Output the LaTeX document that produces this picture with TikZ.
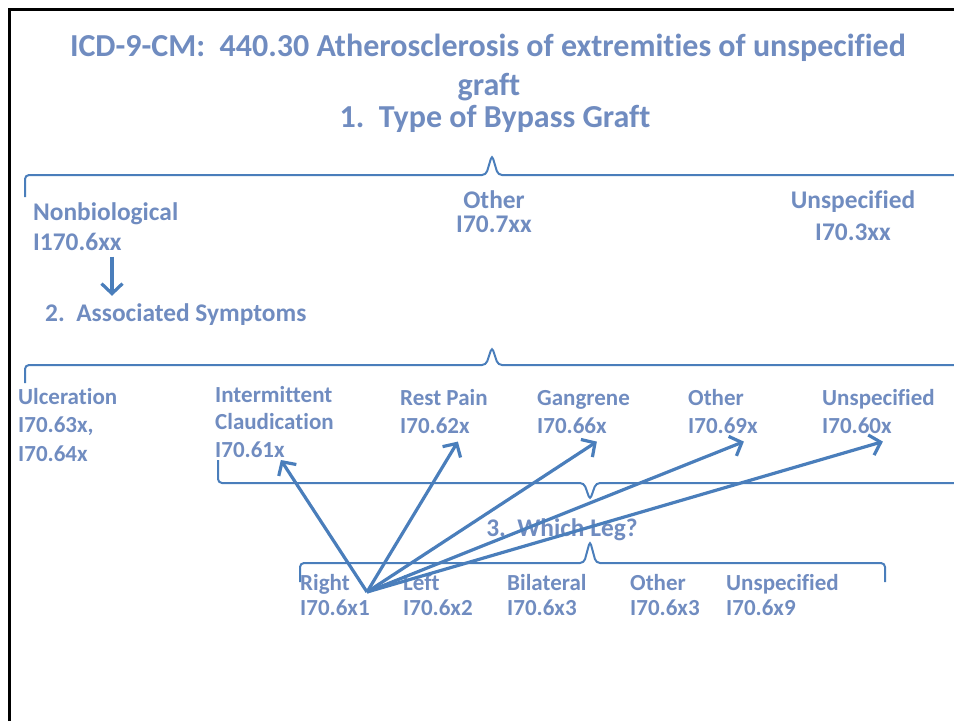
\documentclass[tikz,border=0pt]{standalone}
\usepackage{fontspec}
\setmainfont{Carlito}[Ligatures=NoCommon]
\usetikzlibrary{arrows.meta,positioning}
\definecolor{codeblue}{RGB}{112,140,192}
\definecolor{brblue}{HTML}{4A7EBB}
\tikzset{
    every node/.style={inner sep=0pt,text=codeblue,font=\bfseries},
    title node/.style={font=\fontsize{32}{39}\selectfont\bfseries,anchor=base},
    big node/.style={font=\fontsize{25.4}{30}\selectfont\bfseries,text height=18pt,text depth=6pt},
    small node/.style={font=\fontsize{23}{28}\selectfont\bfseries,text height=16pt,text depth=5pt},
    brace/.style={draw=brblue,line width=2pt,rounded corners=4pt},
    pick/.style={draw=brblue,line width=3.2pt,-{Straight Barb[length=10pt,width=21pt]}}
}

\begin{document}
\begin{tikzpicture}[x=1pt,y=-1pt,node distance=6pt]
    \useasboundingbox (0,0) rectangle (954,721);
    \draw[line width=3pt] (9,721) -- (9,9) -- (954,9);

    % headings
    \node[title node] (title) at (488,56) {ICD-9-CM:\ \ 440.30 Atherosclerosis of extremities of unspecified};
    \node[title node] (graft) at (489,95) {graft};
    \node[title node] (type) at (495,127) {1.\ \ Type of Bypass Graft};

    % type of graft
    \node[big node,anchor=base west] (nonbio) at (33,220) {Nonbiological};
    \node[big node] (nonbioc) [below right=6pt and 0pt of nonbio.south west] {I170.6xx};
    \node[big node,anchor=base] (other) at (494,208) {Other};
    \node[big node] (otherc) [below=0pt of other] {I70.7xx};
    \node[big node,anchor=base] (unsp) at (853,208) {Unspecified};
    \node[big node] (unspc) [below=8pt of unsp] {I70.3xx};
    \node[big node,anchor=base west] (assoc) at (45,321) {2.\ \ Associated Symptoms};

    % symptoms
    \node[small node,anchor=base west] (ulcer) at (18,404) {Ulceration};
    \node[small node] (ulcerc) [below right=7pt and 0pt of ulcer.south west] {I70.63x,};
    \node[small node] (ulcerd) [below right=8pt and 0pt of ulcerc.south west] {I70.64x};
    \node[small node,anchor=base west] (inter) at (215,402) {Intermittent};
    \node[small node] (claud) [below right=6pt and 0pt of inter.south west] {Claudication};
    \node[small node] (claudc) [below right=7pt and 0pt of claud.south west] {I70.61x};
    \node[small node,anchor=base west] (rest) at (400,405) {Rest Pain};
    \node[small node] (restc) [below right=7pt and 0pt of rest.south west] {I70.62x};
    \node[small node,anchor=base west] (gang) at (537,405) {Gangrene};
    \node[small node] (gangc) [below right=7pt and 0pt of gang.south west] {I70.66x};
    \node[small node,anchor=base west] (oth) at (688,405) {Other};
    \node[small node] (othc) [below right=7pt and 0pt of oth.south west] {I70.69x};
    \node[small node,anchor=base west] (uns) at (822,405) {Unspecified};
    \node[small node] (unsc) [below right=7pt and 0pt of uns.south west] {I70.60x};

    % which leg
    \node[big node,anchor=base] (leg) at (562,536) {3.\ \ Which Leg?};
    \node[small node,anchor=base west] (right) at (300,590) {Right};
    \node[small node] (rightc) [below right=4pt and 0pt of right.south west] {I70.6x1};
    \node[small node,anchor=base west] (left) at (403,590) {Left};
    \node[small node] (leftc) [below right=4pt and 0pt of left.south west] {I70.6x2};
    \node[small node,anchor=base west] (bilat) at (507,590) {Bilateral};
    \node[small node] (bilatc) [below right=4pt and 0pt of bilat.south west] {I70.6x3};
    \node[small node,anchor=base west] (legoth) at (630,590) {Other};
    \node[small node] (legothc) [below right=4pt and 0pt of legoth.south west] {I70.6x3};
    \node[small node,anchor=base west] (leguns) at (726,590) {Unspecified};
    \node[small node] (legunsc) [below right=4pt and 0pt of leguns.south west] {I70.6x9};

    % braces
    \draw[brace] (25,197) -- (25,175) -- (486,175) -- (492,155) -- (498,175) -- (960,175);
    \draw[brace] (25,383) -- (25,365) -- (486,365) -- (492,347) -- (498,365) -- (960,365);
    \draw[brace] (218,460) -- (218,483) -- (584,483) -- (590,500) -- (596,483) -- (960,483);
    \draw[brace] (300,582) -- (300,563) -- (584,563) -- (590,541) -- (596,563) -- (885,563) -- (885,582);

    % arrows
    \draw[pick] ([xshift=79pt]nonbioc.south west) -- ([xshift=79pt,yshift=7pt]nonbioc.south west |- assoc.north);
    \coordinate (hub) at (367,592);
    \draw[pick] (hub) -- ([xshift=-4pt,yshift=3pt]claudc.south east);
    \draw[pick] (hub) -- ([xshift=-12pt,yshift=-3pt]restc.south east);
    \draw[pick] (hub) -- ([xshift=-10pt,yshift=-3pt]gangc.south east);
    \draw[pick] (hub) -- ([xshift=-14pt,yshift=-3pt]othc.south east);
    \draw[pick] (hub) -- ([xshift=-9pt,yshift=-3pt]unsc.south east);
\end{tikzpicture}
\end{document}
